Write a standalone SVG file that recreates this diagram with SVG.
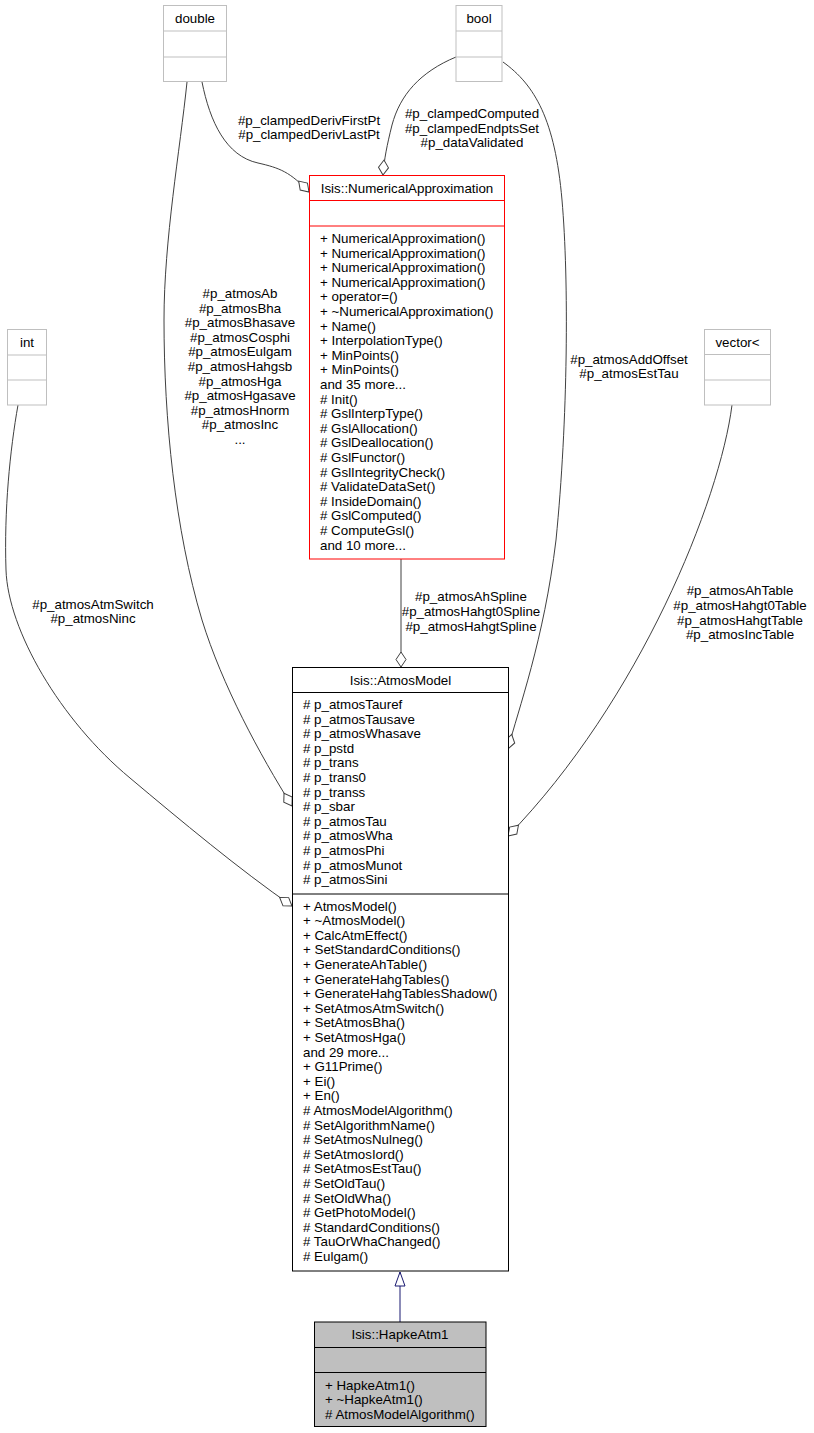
<svg xmlns="http://www.w3.org/2000/svg" width="814" height="1433" viewBox="0 0 814 1433">
<defs>
<style>
text{font-family:"Liberation Sans",Arial,Helvetica,sans-serif;font-size:13.33px;fill:#000}
.c{text-anchor:middle}
.box{fill:#fff;stroke:#bfbfbf;stroke-width:1}
.red{fill:#fff;stroke:#ff0000;stroke-width:1}
.blk{fill:#fff;stroke:#000;stroke-width:1}
.cur{fill:#bfbfbf;stroke:#000;stroke-width:1}
.gl{stroke:#bfbfbf;stroke-width:1}
.rl{stroke:#ff0000;stroke-width:1}
.bl{stroke:#000;stroke-width:1}
.edge{fill:none;stroke:#404040;stroke-width:1;marker-end:url(#odiamond)}
.inh{fill:none;stroke:#191970;stroke-width:1;marker-end:url(#onormal)}
</style>
<marker id="odiamond" markerUnits="userSpaceOnUse" markerWidth="20" markerHeight="20" refX="0" refY="0" orient="auto" overflow="visible">
<path d="M0,0 L-7.5,-5 L-15,0 L-7.5,5 Z" fill="#fff" stroke="#404040" stroke-width="1"/>
</marker>
<marker id="onormal" markerUnits="userSpaceOnUse" markerWidth="20" markerHeight="20" refX="0" refY="0" orient="auto" overflow="visible">
<path d="M0,0 L-14,-5 L-14,5 Z" fill="#fff" stroke="#191970" stroke-width="1"/>
</marker>
</defs>
<rect width="814" height="1433" fill="#fff"/>

<g id="connectors">
<path class="edge" d="M202,82 C210,122 226,156 258,163 C280,168 290,172 309,192"/>
<path class="edge" d="M456,57 C420,72 400,95 392,125 C387,145 384,160 383,175"/>
<path class="edge" d="M187,82 C180,150 164,240 164,320 C164,420 175,530 202,620 C222,685 260,755 292,806"/>
<path class="edge" d="M18,405 C10,450 4,510 6,570 C8,630 60,720 130,778 C180,820 240,870 292,906"/>
<path class="edge" d="M401,559 L401,667"/>
<path class="edge" d="M503,62 C535,85 555,120 562,200 C569,280 568,420 556,540 C544,640 518,710 508,749"/>
<path class="edge" d="M732,405 C720,500 640,700 508,836"/>
<path class="inh" d="M400,1322 L400,1272"/>
<g id="edge-labels">
<text class="c" x="309" y="124.7">#p_clampedDerivFirstPt</text>
<text class="c" x="309" y="139.3">#p_clampedDerivLastPt</text>
<text class="c" x="472" y="118">#p_clampedComputed</text>
<text class="c" x="472" y="132.6">#p_clampedEndptsSet</text>
<text class="c" x="472" y="147.2">#p_dataValidated</text>
<text class="c" x="240" y="298">#p_atmosAb</text>
<text class="c" x="240" y="312.6">#p_atmosBha</text>
<text class="c" x="240" y="327.2">#p_atmosBhasave</text>
<text class="c" x="240" y="341.8">#p_atmosCosphi</text>
<text class="c" x="240" y="356.4">#p_atmosEulgam</text>
<text class="c" x="240" y="371">#p_atmosHahgsb</text>
<text class="c" x="240" y="385.6">#p_atmosHga</text>
<text class="c" x="240" y="400.2">#p_atmosHgasave</text>
<text class="c" x="240" y="414.8">#p_atmosHnorm</text>
<text class="c" x="240" y="429.4">#p_atmosInc</text>
<text class="c" x="240" y="444">...</text>
<text class="c" x="93" y="608.7">#p_atmosAtmSwitch</text>
<text class="c" x="93" y="623.3">#p_atmosNinc</text>
<text class="c" x="471" y="601.4">#p_atmosAhSpline</text>
<text class="c" x="471" y="616">#p_atmosHahgt0Spline</text>
<text class="c" x="471" y="630.6">#p_atmosHahgtSpline</text>
<text class="c" x="629" y="363.7">#p_atmosAddOffset</text>
<text class="c" x="629" y="378.3">#p_atmosEstTau</text>
<text class="c" x="740" y="595.3">#p_atmosAhTable</text>
<text class="c" x="740" y="609.9">#p_atmosHahgt0Table</text>
<text class="c" x="740" y="624.5">#p_atmosHahgtTable</text>
<text class="c" x="740" y="639.1">#p_atmosIncTable</text>
</g>
</g>

<g id="double">
<rect class="box" x="163.5" y="5.5" width="63" height="76"/>
<line class="gl" x1="163.5" y1="31" x2="226.5" y2="31"/>
<line class="gl" x1="163.5" y1="57" x2="226.5" y2="57"/>
<text class="c" x="195" y="22.5">double</text>
</g>

<g id="bool">
<rect class="box" x="456" y="5.5" width="46" height="76"/>
<line class="gl" x1="456" y1="31" x2="502" y2="31"/>
<line class="gl" x1="456" y1="57" x2="502" y2="57"/>
<text class="c" x="479" y="22.5">bool</text>
</g>

<g id="int">
<rect class="box" x="7.5" y="329.5" width="39" height="75.5"/>
<line class="gl" x1="7.5" y1="355" x2="46.5" y2="355"/>
<line class="gl" x1="7.5" y1="380" x2="46.5" y2="380"/>
<text class="c" x="27" y="346.5">int</text>
</g>

<g id="vector">
<rect class="box" x="704.5" y="329.5" width="66" height="75.5"/>
<line class="gl" x1="704.5" y1="354.5" x2="770.5" y2="354.5"/>
<line class="gl" x1="704.5" y1="380" x2="770.5" y2="380"/>
<text class="c" x="737.5" y="346.5">vector&lt;</text>
</g>

<g id="NumericalApproximation">
<rect class="red" x="309.5" y="175.5" width="195" height="383.5"/>
<line class="rl" x1="309.5" y1="200.5" x2="504.5" y2="200.5"/>
<line class="rl" x1="309.5" y1="226" x2="504.5" y2="226"/>
<text class="c" x="407" y="192.5">Isis::NumericalApproximation</text>
<text x="320" y="243">+ NumericalApproximation()</text>
<text x="320" y="257.6">+ NumericalApproximation()</text>
<text x="320" y="272.2">+ NumericalApproximation()</text>
<text x="320" y="286.8">+ NumericalApproximation()</text>
<text x="320" y="301.4">+ operator=()</text>
<text x="320" y="316">+ ~NumericalApproximation()</text>
<text x="320" y="330.6">+ Name()</text>
<text x="320" y="345.2">+ InterpolationType()</text>
<text x="320" y="359.8">+ MinPoints()</text>
<text x="320" y="374.4">+ MinPoints()</text>
<text x="320" y="389">and 35 more...</text>
<text x="320" y="403.6"># Init()</text>
<text x="320" y="418.2"># GslInterpType()</text>
<text x="320" y="432.8"># GslAllocation()</text>
<text x="320" y="447.4"># GslDeallocation()</text>
<text x="320" y="462"># GslFunctor()</text>
<text x="320" y="476.6"># GslIntegrityCheck()</text>
<text x="320" y="491.2"># ValidateDataSet()</text>
<text x="320" y="505.8"># InsideDomain()</text>
<text x="320" y="520.4"># GslComputed()</text>
<text x="320" y="535"># ComputeGsl()</text>
<text x="320" y="549.6">and 10 more...</text>
</g>

<g id="AtmosModel">
<rect class="blk" x="292.5" y="667.5" width="216" height="603.5"/>
<line class="bl" x1="292.5" y1="692.5" x2="508.5" y2="692.5"/>
<line class="bl" x1="292.5" y1="894" x2="508.5" y2="894"/>
<text class="c" x="400.5" y="684.5">Isis::AtmosModel</text>
<text x="303" y="709"># p_atmosTauref</text>
<text x="303" y="723.6"># p_atmosTausave</text>
<text x="303" y="738.2"># p_atmosWhasave</text>
<text x="303" y="752.8"># p_pstd</text>
<text x="303" y="767.4"># p_trans</text>
<text x="303" y="782"># p_trans0</text>
<text x="303" y="796.6"># p_transs</text>
<text x="303" y="811.2"># p_sbar</text>
<text x="303" y="825.8"># p_atmosTau</text>
<text x="303" y="840.4"># p_atmosWha</text>
<text x="303" y="855"># p_atmosPhi</text>
<text x="303" y="869.6"># p_atmosMunot</text>
<text x="303" y="884.2"># p_atmosSini</text>
<text x="303" y="910.5">+ AtmosModel()</text>
<text x="303" y="925.1">+ ~AtmosModel()</text>
<text x="303" y="939.7">+ CalcAtmEffect()</text>
<text x="303" y="954.3">+ SetStandardConditions()</text>
<text x="303" y="968.9">+ GenerateAhTable()</text>
<text x="303" y="983.5">+ GenerateHahgTables()</text>
<text x="303" y="998.1">+ GenerateHahgTablesShadow()</text>
<text x="303" y="1012.7">+ SetAtmosAtmSwitch()</text>
<text x="303" y="1027.3">+ SetAtmosBha()</text>
<text x="303" y="1041.9">+ SetAtmosHga()</text>
<text x="303" y="1056.5">and 29 more...</text>
<text x="303" y="1071.1">+ G11Prime()</text>
<text x="303" y="1085.7">+ Ei()</text>
<text x="303" y="1100.3">+ En()</text>
<text x="303" y="1114.9"># AtmosModelAlgorithm()</text>
<text x="303" y="1129.5"># SetAlgorithmName()</text>
<text x="303" y="1144.1"># SetAtmosNulneg()</text>
<text x="303" y="1158.7"># SetAtmosIord()</text>
<text x="303" y="1173.3"># SetAtmosEstTau()</text>
<text x="303" y="1187.9"># SetOldTau()</text>
<text x="303" y="1202.5"># SetOldWha()</text>
<text x="303" y="1217.1"># GetPhotoModel()</text>
<text x="303" y="1231.7"># StandardConditions()</text>
<text x="303" y="1246.3"># TauOrWhaChanged()</text>
<text x="303" y="1260.9"># Eulgam()</text>
</g>

<g id="HapkeAtm1">
<rect class="cur" x="314.5" y="1322" width="171.5" height="104.5"/>
<line class="bl" x1="314.5" y1="1347.5" x2="486" y2="1347.5"/>
<line class="bl" x1="314.5" y1="1372.5" x2="486" y2="1372.5"/>
<text class="c" x="400" y="1338.7">Isis::HapkeAtm1</text>
<text x="325" y="1389.7">+ HapkeAtm1()</text>
<text x="325" y="1404.3">+ ~HapkeAtm1()</text>
<text x="325" y="1418.9"># AtmosModelAlgorithm()</text>
</g>
</svg>
